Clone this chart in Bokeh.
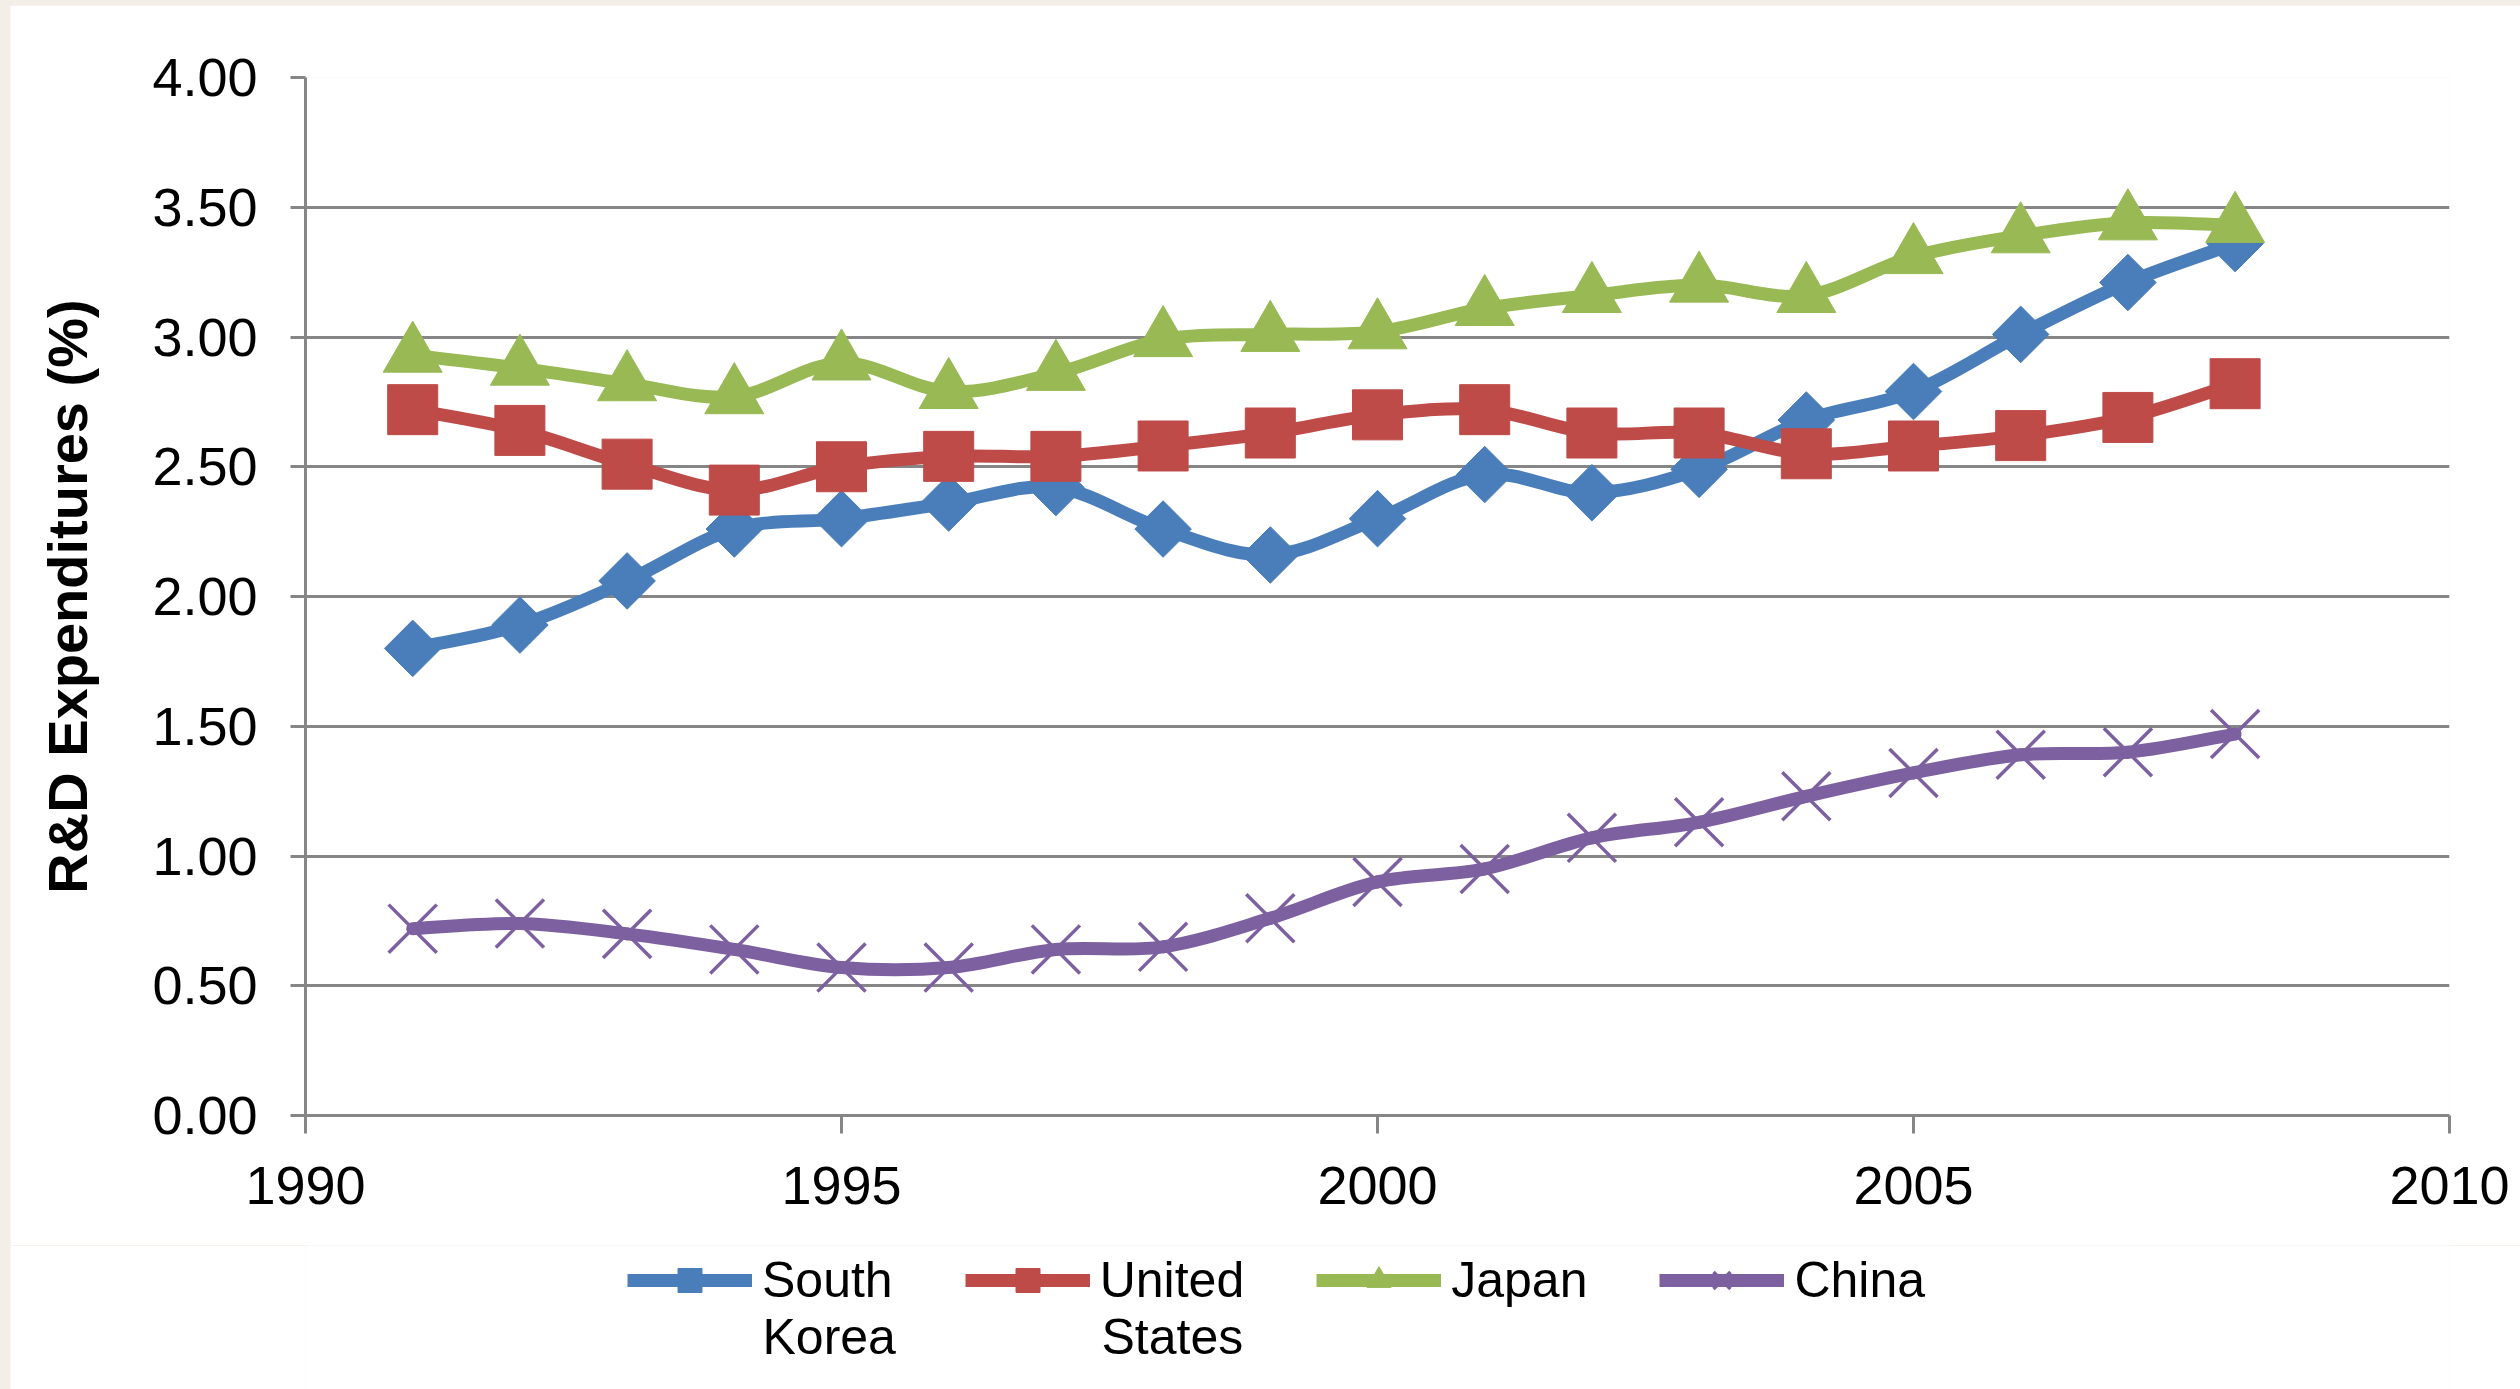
import math
from bokeh.plotting import figure
from bokeh.layouts import column
from bokeh.models import Range1d, FixedTicker, NumeralTickFormatter, Legend, LegendItem, Label
from bokeh.embed import file_html
from bokeh.resources import INLINE

years = list(range(1991, 2009))
south_korea = [1.80, 1.89, 2.06, 2.26, 2.30, 2.36, 2.42, 2.26, 2.16, 2.30, 2.47, 2.40, 2.49, 2.68, 2.79, 3.01, 3.21, 3.36]
united_states = [2.72, 2.64, 2.51, 2.41, 2.50, 2.54, 2.54, 2.58, 2.63, 2.70, 2.72, 2.63, 2.63, 2.55, 2.58, 2.62, 2.69, 2.82]
japan = [2.93, 2.88, 2.82, 2.77, 2.90, 2.79, 2.86, 2.99, 3.01, 3.02, 3.11, 3.16, 3.20, 3.16, 3.31, 3.39, 3.44, 3.43]
china = [0.72, 0.74, 0.70, 0.64, 0.57, 0.57, 0.64, 0.65, 0.76, 0.90, 0.95, 1.07, 1.13, 1.23, 1.32, 1.39, 1.40, 1.47]
# legend names, wrapped on two lines as in the original
name_line1 = ["South", "United", "Japan", "China"]
name_line2 = ["Korea", "States", "", ""]
x_ticks = [1990, 1995, 2000, 2005, 2010]
y_ticks = [0.0, 0.5, 1.0, 1.5, 2.0, 2.5, 3.0, 3.5, 4.0]

FONT = "Liberation Sans"
GRID = "#868686"
FRAME_L, FRAME_R = 295, 71


def smooth_segments(xs, ys):
    """Excel-style smoothed line: one cubic Bezier per pair of neighbouring points."""
    n = len(xs)
    x0, y0, x1, y1, cx0, cy0, cx1, cy1 = [], [], [], [], [], [], [], []
    for i in range(n - 1):
        a = max(i - 1, 0)
        b = min(i + 2, n - 1)
        x0.append(xs[i]); y0.append(ys[i])
        x1.append(xs[i + 1]); y1.append(ys[i + 1])
        cx0.append(xs[i] + (xs[i + 1] - xs[a]) / 6.0)
        cy0.append(ys[i] + (ys[i + 1] - ys[a]) / 6.0)
        cx1.append(xs[i + 1] - (xs[b] - xs[i]) / 6.0)
        cy1.append(ys[i + 1] - (ys[b] - ys[i]) / 6.0)
    return dict(x0=x0, y0=y0, x1=x1, y1=y1, cx0=cx0, cy0=cy0, cx1=cx1, cy1=cy1)


p = figure(width=2510, height=1240, output_backend="svg", toolbar_location=None,
           x_range=Range1d(1990, 2010), y_range=Range1d(0, 4),
           min_border_left=FRAME_L, min_border_right=FRAME_R, min_border_top=72, min_border_bottom=130)
p.outline_line_color = None
p.background_fill_color = "white"
p.border_fill_color = "white"

p.xgrid.visible = False
p.ygrid.grid_line_color = GRID
p.ygrid.grid_line_width = 3
p.ygrid.ticker = FixedTicker(ticks=y_ticks)

p.xaxis.ticker = FixedTicker(ticks=x_ticks)
p.yaxis.ticker = FixedTicker(ticks=y_ticks)
p.yaxis.formatter = NumeralTickFormatter(format="0.00")
for ax in (p.xaxis[0], p.yaxis[0]):
    ax.axis_line_color = GRID
    ax.axis_line_width = 3
    ax.major_tick_line_color = GRID
    ax.major_tick_line_width = 3
    ax.major_tick_in = 0
    ax.minor_tick_line_color = None
    ax.major_label_text_font = FONT
    ax.major_label_text_font_size = "54px"
    ax.major_label_text_color = "black"
p.yaxis.major_tick_out = 15
p.yaxis.major_label_standoff = 33
p.xaxis.major_tick_out = 18
p.xaxis.major_label_standoff = 33
p.yaxis.axis_label = "R&D Expenditures (%)"
p.yaxis.axis_label_text_font = FONT
p.yaxis.axis_label_text_font_size = "56px"
p.yaxis.axis_label_text_font_style = "bold"
p.yaxis.axis_label_text_color = "black"
p.yaxis.axis_label_standoff = 50

styles = [
    (south_korea, "#4A7EBB", dict(marker="square", size=40, angle=math.pi / 4)),
    (united_states, "#BE4B48", dict(marker="square", size=50)),
    (japan, "#98B954", dict(marker="triangle", size=59)),
    (china, "#7D60A0", dict(marker="x", size=68, line_width=3.5)),
]


def add_markers(fig, vals, color, mk):
    kw = dict(mk)
    if kw["marker"] == "x":
        return fig.scatter(years, vals, line_color=color, **kw)
    return fig.scatter(years, vals, fill_color=color, line_color=color, **kw)


for vals, color, mk in styles:
    p.bezier(line_color=color, line_width=13, line_cap="round", **smooth_segments(years, vals))
    add_markers(p, vals, color, mk)

# Legend strip below the chart, with the same frame margins as the chart
LH = 144
lf = figure(width=2510, height=LH, output_backend="svg", toolbar_location=None,
            x_range=Range1d(1990, 2010), y_range=Range1d(10, 11),
            x_axis_location=None, y_axis_location=None,
            min_border_left=FRAME_L, min_border_right=FRAME_R, min_border_top=0, min_border_bottom=0)
lf.outline_line_color = None
lf.grid.visible = False
lf.background_fill_color = "white"
lf.border_fill_color = "white"

items = []
for name, (vals, color, mk) in zip(name_line1, styles):
    ln = lf.line(years, vals, line_color=color, line_width=13)
    sc = add_markers(lf, vals, color, mk)
    items.append(LegendItem(label=name, renderers=[ln, sc]))

legend = Legend(items=items, orientation="horizontal", location=(322, LH - 3 - 62),
                glyph_width=125, glyph_height=60, label_standoff=10, spacing=72,
                padding=0, margin=0, border_line_color=None, background_fill_alpha=0,
                label_text_font=FONT, label_text_font_size="50px", label_text_color="black")
lf.add_layout(legend, "center")

# second line of the wrapped legend names
second_x = [457, 796]
for txt, sx in zip([t for t in name_line2 if t], second_x):
    lf.add_layout(Label(x=sx, y=LH - 91, x_units="screen", y_units="screen", text=txt,
                        text_font=FONT, text_font_size="50px", text_color="black",
                        text_baseline="middle", text_align="left"))

layout = column(p, lf, spacing=0, styles={"margin-left": "10px", "margin-top": "5px"})

html = file_html(layout, INLINE)
html = html.replace("<head>", "<head><style>html,body{background:#f4eee8;margin:0;}</style>", 1)
open("out.html", "w").write(html)
